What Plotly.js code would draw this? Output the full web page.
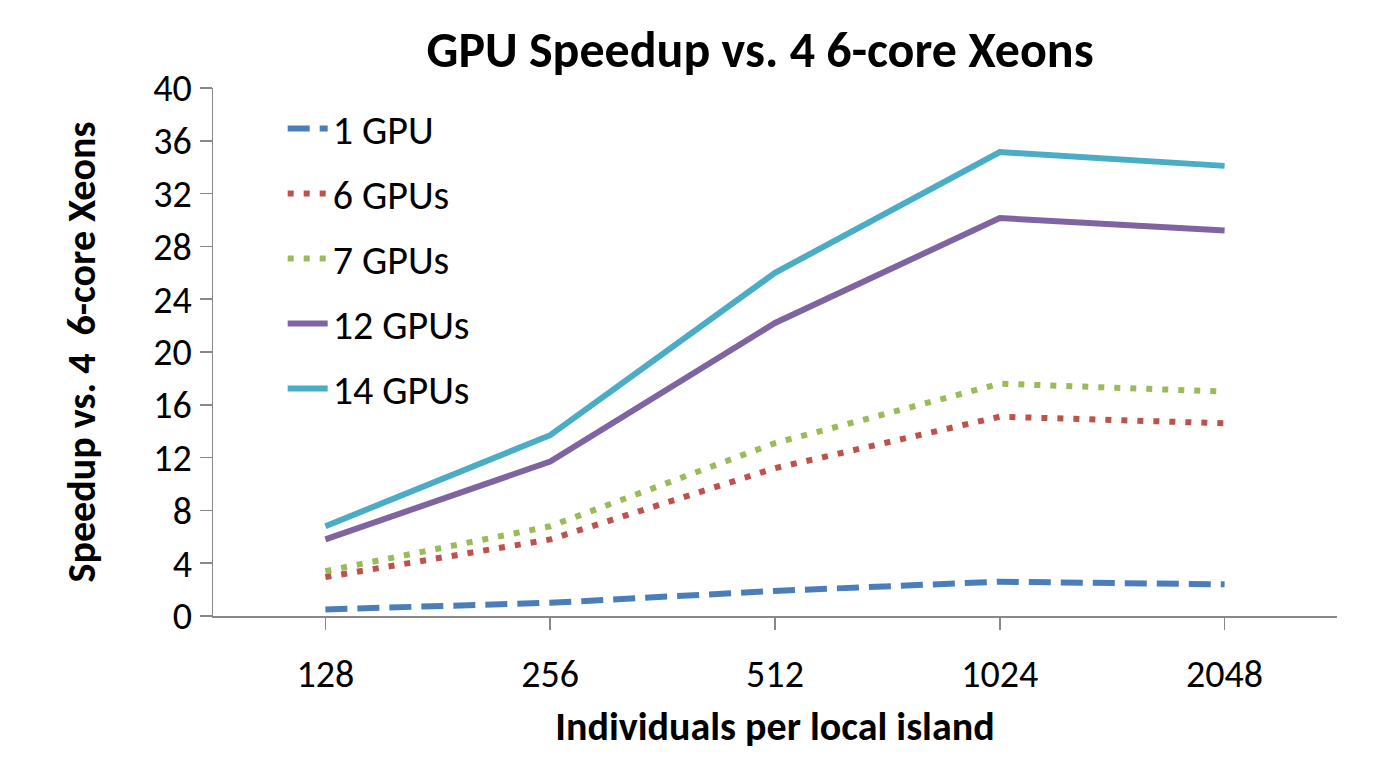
<!DOCTYPE html>
<html>
<head>
<meta charset="utf-8">
<script src="https://cdn.plot.ly/plotly-3.0.1.min.js"></script>
<style>html,body{margin:0;padding:0;background:#fff;}#chart{width:1387px;height:759px;}</style>
</head>
<body>
<div id="chart"></div>
<script>
const categories = ["128", "256", "512", "1024", "2048"];
const seriesNames = ["1 GPU", "6 GPUs", "7 GPUs", "12 GPUs", "14 GPUs"];
const gpu1 = [0.5, 1.0, 1.9, 2.6, 2.4];
const gpu6 = [2.95, 5.8, 11.2, 15.1, 14.6];
const gpu7 = [3.4, 6.8, 13.1, 17.6, 17.0];
const gpu12 = [5.8, 11.7, 22.2, 30.15, 29.2];
const gpu14 = [6.8, 13.7, 26.0, 35.15, 34.1];
const yTicks = [0, 4, 8, 12, 16, 20, 24, 28, 32, 36, 40];

const values = [gpu1, gpu6, gpu7, gpu12, gpu14];
const colors = ["#4A7EBB", "#C0504D", "#9BBB59", "#8064A2", "#4BACC6"];
const dashes = ["22px,10px", "6px,10px", "6px,10px", "solid", "solid"];

const traces = values.map((v, i) => ({
  x: categories, y: v, name: seriesNames[i], type: "scatter", mode: "lines",
  legendgroup: "g" + i,
  line: {color: colors[i], width: 6, dash: dashes[i]}
}));

const font = "Carlito, Calibri, 'Liberation Sans', 'Noto Sans', sans-serif";
const layout = {
  width: 1387, height: 759,
  margin: {l: 213, r: 50, t: 88, b: 143},
  paper_bgcolor: "#fff", plot_bgcolor: "#fff",
  font: {family: font, color: "#000", size: 38},
  title: {text: "<b>GPU Speedup vs. 4 6-core Xeons</b>", x: 0.548, xanchor: "center", y: 0.935, yanchor: "middle", font: {size: 50, family: font}},
  xaxis: {
    type: "category", showgrid: false, zeroline: false,
    showline: true, linecolor: "#888", linewidth: 1.5,
    ticks: "outside", ticklen: 12, tickcolor: "#888", tickwidth: 1.5,
    ticklabelstandoff: 12,
    tickfont: {size: 38}, range: [-0.5, 4.5],
    title: {text: "<b>Individuals per local island</b>", font: {size: 40}, standoff: 16}
  },
  yaxis: {
    range: [0, 40], tickvals: yTicks, showgrid: false, zeroline: false,
    showline: true, linecolor: "#888", linewidth: 1.5,
    ticks: "outside", ticklen: 12, tickcolor: "#888", tickwidth: 1.5,
    tickfont: {size: 38},
    title: {text: "<b>Speedup vs. 4  6-core Xeons</b>", font: {size: 40}, standoff: 45}
  },
  legend: {
    x: 0.062, y: 0.985, xanchor: "left", yanchor: "top",
    bgcolor: "rgba(0,0,0,0)", font: {size: 40}, tracegroupgap: 10,
    itemwidth: 40
  },
  showlegend: true
};

Plotly.newPlot("chart", traces, layout, {staticPlot: true, displayModeBar: false});
</script>
</body>
</html>
